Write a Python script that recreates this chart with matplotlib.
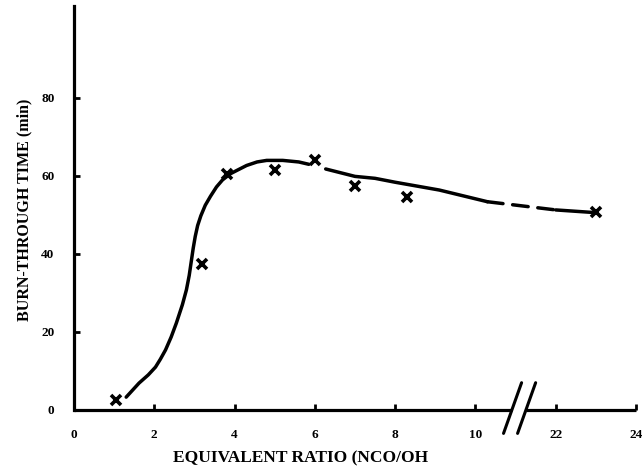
import numpy as np
import matplotlib
matplotlib.use('Agg')
import matplotlib.pyplot as plt

# measured points (x = NCO/OH ratio, y = burn-through time in min)
ratio_pts = [1.05, 3.2, 3.8, 5.0, 6.0, 7.0, 8.3, 23.0]
time_pts = [2.5, 37.5, 60.5, 61.5, 64.0, 57.4, 54.6, 50.8]

# hand-drawn trend line
curve_a_x = [1.3, 1.62, 1.85, 2.03, 2.15, 2.28, 2.42, 2.55, 2.7, 2.8, 2.87, 2.92, 2.97,
             3.02, 3.08, 3.16, 3.27, 3.4, 3.55, 3.7, 3.9, 4.07, 4.3, 4.56, 4.8, 5.2, 5.6, 5.85]
curve_a_y = [3.3, 6.9, 9.0, 11.0, 13.0, 15.4, 18.7, 22.3, 27.0, 30.8, 34.5, 38.0, 41.5,
             44.5, 47.3, 49.8, 52.5, 54.8, 57.2, 59.0, 60.6, 61.5, 62.7, 63.6, 64.0, 64.0, 63.6, 63.0]
curve_b_x = [6.27, 7.0, 7.5, 8.0, 9.1, 10.3]
curve_b_y = [61.8, 59.9, 59.4, 58.4, 56.4, 53.4]
curve_c_x = [10.3, 22.0]          # dashed across the break
curve_c_y = [53.4, 51.3]
curve_d_x = [22.0, 23.0]
curve_d_y = [51.3, 50.6]

xtick_vals = [0, 2, 4, 6, 8, 10, 22, 24]
ytick_vals = [0, 20, 40, 60, 80]


def pos(x):
    # broken x axis: 10 ... 22 squeezed together
    x = np.asarray(x, dtype=float)
    return np.where(x <= 11, x, x - 10)


plt.rcParams['font.family'] = ['Liberation Serif', 'DejaVu Serif']
plt.rcParams['font.weight'] = 'bold'

fig = plt.figure(figsize=(6.43, 4.74), dpi=100)
ax = fig.add_axes([74 / 643, 64 / 474, (636 - 74) / 643, (410 - 6) / 474])

lw = 2.5
ax.plot(pos(curve_a_x), curve_a_y, color='black', lw=lw, solid_capstyle='round', solid_joinstyle='round')
ax.plot(pos(curve_b_x), curve_b_y, color='black', lw=lw, solid_capstyle='round', solid_joinstyle='round')
ax.plot(pos(curve_c_x), curve_c_y, color='black', lw=lw, dashes=(4.5, 2.8), dash_capstyle='round')
ax.plot(pos(curve_d_x), curve_d_y, color='black', lw=lw, solid_capstyle='round')
ax.plot(pos(ratio_pts), time_pts, ls='none', marker='x', ms=7, mew=2.6, color='black')

ax.set_xlim(0, 14)
ax.set_ylim(0, (410 - 6) / 3.9)

ax.spines['top'].set_visible(False)
ax.spines['right'].set_visible(False)
ax.spines['bottom'].set_visible(False)
ax.spines['left'].set_linewidth(2.3)

# bottom axis in two pieces with a break mark
brk = 10.95
ax.plot([0, brk - 0.05], [0, 0], color='black', lw=2.3, clip_on=False, solid_capstyle='butt')
ax.plot([brk + 0.3, 14], [0, 0], color='black', lw=2.3, clip_on=False, solid_capstyle='butt')
for dx in (0.0, 0.35):
    ax.plot([brk - 0.25 + dx, brk + 0.2 + dx], [-6.0, 7.0], color='black', lw=2.2,
            clip_on=False, solid_capstyle='round')

ax.set_xticks(pos(xtick_vals))
ax.set_xticklabels([str(v) for v in xtick_vals])
ax.set_yticks(ytick_vals)
ax.set_yticklabels([str(v) for v in ytick_vals])
ax.tick_params(axis='both', direction='in', length=4, width=2, labelsize=9.5)
ax.tick_params(axis='x', pad=14)
ax.tick_params(axis='y', pad=14)
for lab in ax.get_xticklabels() + ax.get_yticklabels():
    lab.set_fontweight('bold')

fig.text(301 / 643, 1 - 458 / 474, 'EQUIVALENT RATIO (NCO/OH', ha='center', va='center',
         fontsize=12.5, fontweight='bold')
fig.text(24 / 643, 1 - 210 / 474, 'BURN-THROUGH TIME (min)', ha='center', va='center',
         rotation=90, fontsize=11.5, fontweight='bold')

fig.savefig('out.png', dpi=100)
